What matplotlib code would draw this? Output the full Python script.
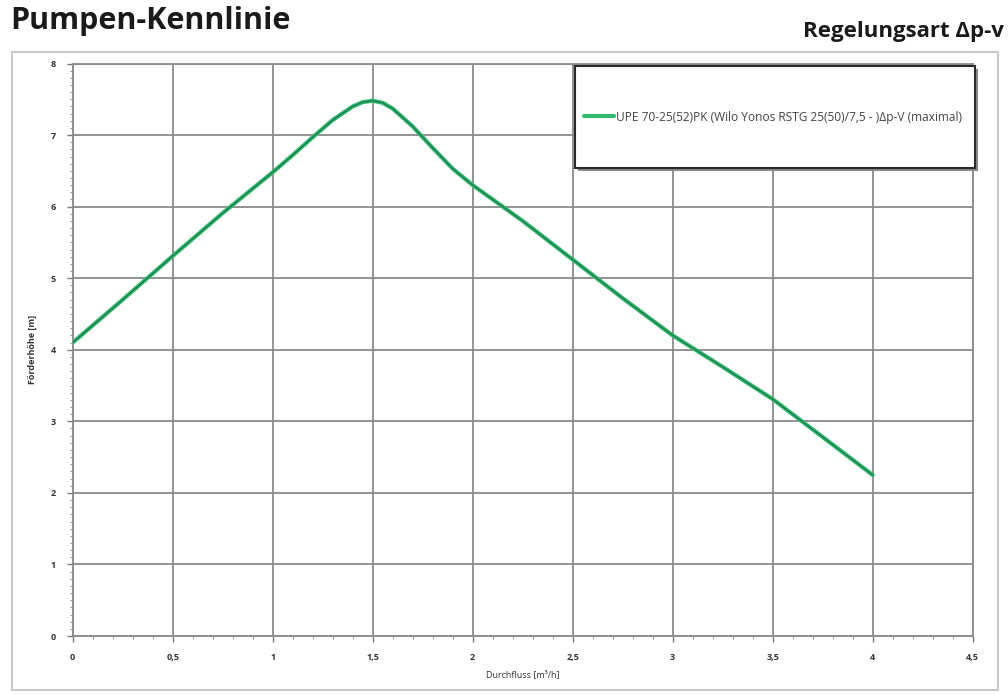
import matplotlib
matplotlib.use("Agg")
import matplotlib.pyplot as plt
from matplotlib.patches import Rectangle
from matplotlib.ticker import MultipleLocator, FuncFormatter

# Data
flow = [0.0, 0.25, 0.5, 0.75, 1.0, 1.1, 1.2, 1.3, 1.4, 1.45, 1.5, 1.55, 1.6, 1.7, 1.8, 1.9, 2.0, 2.1,
        2.25, 2.5, 2.75, 3.0, 3.25, 3.5, 3.75, 4.0]
head = [4.10, 4.70, 5.31, 5.91, 6.48, 6.72, 6.97, 7.21, 7.40, 7.46, 7.48, 7.45, 7.37, 7.12, 6.82, 6.53, 6.30, 6.10,
        5.80, 5.26, 4.72, 4.20, 3.76, 3.31, 2.78, 2.25]
series_label = "UPE 70-25(52)PK (Wilo Yonos RSTG 25(50)/7,5 - )Δp-V (maximal)"
x_ticks = [0, 0.5, 1, 1.5, 2, 2.5, 3, 3.5, 4, 4.5]
y_ticks = [0, 1, 2, 3, 4, 5, 6, 7, 8]

plt.rcParams['font.family'] = ['Open Sans', 'DejaVu Sans']

fig = plt.figure(figsize=(10.08, 6.94), dpi=100)
W, H = 1008, 694

# outer frame
fig.patches.append(Rectangle((12 / W, 1 - 690 / H), (998 - 12) / W, (690 - 52) / H,
                             transform=fig.transFigure, fill=False, edgecolor='#c8c8c8', lw=1.5))

fig.text(10 / W, 1 - 21 / H, "Pumpen-Kennlinie", fontsize=22, fontweight='bold', va='center', ha='left',
         color='#1a1a1a')
fig.text(1004 / W, 1 - 32 / H, "Regelungsart Δp-v", fontsize=16, fontweight='bold', va='center', ha='right',
         color='#1a1a1a')

left, right, top, bottom = 72.7, 972.7, 63.5, 636
ax = fig.add_axes([left / W, 1 - bottom / H, (right - left) / W, (bottom - top) / H])

ax.plot(flow, head, color='#33b870', lw=3.0, solid_capstyle='round', solid_joinstyle='round', zorder=3,
        label=series_label)
ax.plot(flow, head, color='#1d7a4a', lw=0.9, solid_joinstyle='round', zorder=4)

ax.set_xlim(0, 4.5)
ax.set_ylim(0, 8)
ax.set_xticks(x_ticks)
ax.set_yticks(y_ticks)
ax.xaxis.set_minor_locator(MultipleLocator(0.1))
ax.yaxis.set_minor_locator(MultipleLocator(0.1))
fmt = FuncFormatter(lambda v, p: ('%g' % v).replace('.', ','))
ax.xaxis.set_major_formatter(fmt)
ax.yaxis.set_major_formatter(fmt)
ax.tick_params(axis='both', which='major', labelsize=6.5, length=4, width=1, color='#777777',
               labelcolor='#333333', pad=8)
ax.tick_params(axis='both', which='minor', length=2, width=0.8, color='#999999')
for lab in ax.get_xticklabels() + ax.get_yticklabels():
    lab.set_fontweight('bold')
ax.grid(True, which='major', color='#8a8a8a', lw=1.3)
for s in ax.spines.values():
    s.set_color('#8a8a8a')
    s.set_linewidth(1.3)

ax.set_xlabel("Durchfluss [m³/h]", fontsize=6.5, color='#333333', labelpad=6)
ax.set_ylabel("Förderhöhe [m]", fontsize=6.5, color='#333333', labelpad=10, fontweight='bold')

# legend box with shadow
bx0 = (575 - left) / (right - left)
by0 = (bottom - 168) / (bottom - top)
bw = (975 - 575) / (right - left)
bh = (168 - 66) / (bottom - top)
ax.add_patch(Rectangle((bx0 + 0.003, by0 - 0.005), bw, bh, transform=ax.transAxes, facecolor='#888888',
                       edgecolor='none', zorder=5, clip_on=False))
ax.add_patch(Rectangle((bx0, by0), bw, bh, transform=ax.transAxes, facecolor='white',
                       edgecolor='#2a2a2a', lw=1.5, zorder=6, clip_on=False))
leg = ax.legend(loc='center left', bbox_to_anchor=((584 - left) / (right - left), (bottom - 117) / (bottom - top)),
                frameon=False, fontsize=8.6, handlelength=2.5, handletextpad=0.15, borderaxespad=0,
                borderpad=0)
leg.set_zorder(7)
for t in leg.get_texts():
    t.set_color('#444444')

fig.savefig("out.png", dpi=100)
